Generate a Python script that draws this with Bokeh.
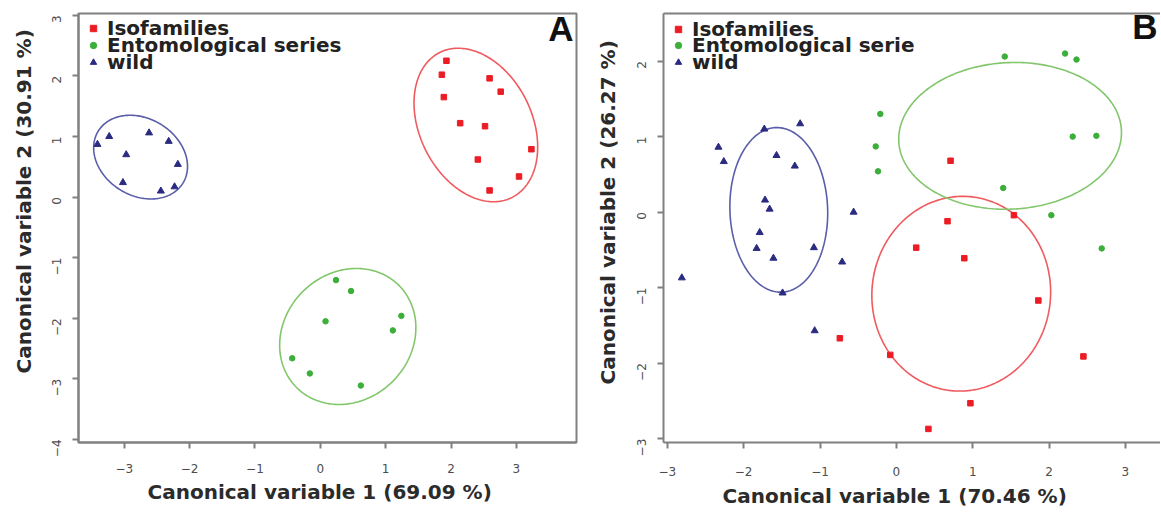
import numpy as np
from bokeh.plotting import figure
from bokeh.models import Range1d, FixedTicker, Legend, LegendItem, Label, LinearAxis, Title
from bokeh.layouts import row
from bokeh.embed import file_html
from bokeh.resources import INLINE

# ---------------- Panel A data ----------------
a_iso_x = [1.93, 1.86, 2.59, 2.76, 1.89, 2.14, 2.52, 3.23, 2.41, 3.04, 2.59]
a_iso_y = [2.25, 2.02, 1.96, 1.74, 1.65, 1.22, 1.17, 0.79, 0.62, 0.34, 0.11]
a_ent_x = [0.24, 0.47, 0.08, 1.24, 1.11, -0.43, -0.16, 0.62]
a_ent_y = [-1.37, -1.55, -2.05, -1.96, -2.20, -2.66, -2.91, -3.11]
a_wild_x = [-3.41, -3.23, -2.62, -2.32, -2.97, -2.18, -3.02, -2.44, -2.23]
a_wild_y = [0.87, 1.00, 1.06, 0.92, 0.70, 0.54, 0.24, 0.10, 0.17]
# ellipses: center x, center y, semi-major, semi-minor, angle (deg)
a_iso_ell = [2.38, 1.19, 1.32, 0.87, -68]
a_ent_ell = [0.42, -2.30, 1.16, 1.00, 60]
a_wild_ell = [-2.75, 0.66, 0.78, 0.62, -40]

# ---------------- Panel B data ----------------
b_iso_x = [0.71, 1.54, 0.67, 0.26, 0.89, 1.86, -0.08, 2.45, 0.97, 0.42, -0.74]
b_iso_y = [0.68, -0.04, -0.12, -0.47, -0.61, -1.17, -1.89, -1.91, -2.53, -2.87, -1.67]
b_ent_x = [1.42, 2.21, 2.36, -0.21, -0.27, -0.24, 2.31, 2.62, 1.40, 2.03, 2.69]
b_ent_y = [2.06, 2.10, 2.02, 1.30, 0.87, 0.54, 1.00, 1.01, 0.32, -0.04, -0.48]
b_wild_x = [-2.33, -2.26, -1.73, -1.26, -1.57, -1.33, -1.72, -1.66, -0.56,
            -1.79, -1.83, -1.08, -1.61, -0.71, -2.81, -1.49, -1.07]
b_wild_y = [0.86, 0.67, 1.10, 1.17, 0.75, 0.61, 0.16, 0.04, 0.00,
            -0.27, -0.48, -0.47, -0.61, -0.66, -0.87, -1.07, -1.57]
b_iso_ell = [0.85, -1.08, 1.29, 1.17, 85]
b_ent_ell = [1.49, 1.01, 1.46, 0.97, 3]
b_wild_ell = [-1.54, 0.03, 1.09, 0.64, 92]

a_xticks = [-3, -2, -1, 0, 1, 2, 3]
a_yticks = [-4, -3, -2, -1, 0, 1, 2, 3]
b_xticks = [-3, -2, -1, 0, 1, 2, 3]
b_yticks = [-3, -2, -1, 0, 1, 2]

labels_a = ["Isofamilies", "Entomological series", "wild"]
labels_b = ["Isofamilies", "Entomological serie", "wild"]
xtitle_a = "Canonical variable 1 (69.09 %)"
ytitle_a = "Canonical variable 2 (30.91 %)"
xtitle_b = "Canonical variable 1 (70.46 %)"
ytitle_b = "Canonical variable 2 (26.27 %)"

RED, RED_E = "#ec1c24", "#ef5a5e"
GREEN, GREEN_E = "#3cae3a", "#82c66c"
BLUE, BLUE_E = "#2a2b80", "#5a5ea8"
AX = "#808080"
FONT = "DejaVu Sans"


def ellipse_pts(e):
    cx, cy, a, b, ang = e
    t = np.linspace(0, 2 * np.pi, 240)
    th = np.deg2rad(ang)
    x = cx + a * np.cos(th) * np.cos(t) - b * np.sin(th) * np.sin(t)
    y = cy + a * np.sin(th) * np.cos(t) + b * np.cos(th) * np.sin(t)
    return x, y


def make_panel(width, height, xr, yr, xt, yt, bl, bt, br, bb, xlab, ylab,
               iso, ent, wild, ells, labels, letter, open_right,
               leg_offsets, xtick_standoff, xlab_off, xlab_standoff,
               ylab_off, ylab_standoff):
    p = figure(width=width, height=height, x_range=Range1d(*xr), y_range=Range1d(*yr),
               output_backend="svg", toolbar_location=None,
               min_border_left=bl, min_border_top=bt, min_border_right=br,
               min_border_bottom=bb)
    p.grid.visible = False
    xax = p.below[0]
    yax = p.left[0]
    xax.ticker = FixedTicker(ticks=xt)
    yax.ticker = FixedTicker(ticks=yt)
    if open_right:
        p.outline_line_color = None
        top = LinearAxis(ticker=FixedTicker(ticks=[]), axis_line_color=AX,
                         axis_line_width=2, major_tick_line_color=None,
                         minor_tick_line_color=None, major_label_standoff=0,
                         major_tick_out=0, major_tick_in=0,
                         major_label_text_font_size="0px")
        p.add_layout(top, "above")
    else:
        p.outline_line_color = AX
        p.outline_line_width = 2
    for ax in (xax, yax):
        ax.axis_line_color = AX
        ax.axis_line_width = 2
        ax.major_tick_line_color = AX
        ax.major_tick_line_width = 2
        ax.major_tick_out = 6
        ax.major_tick_in = 0
        ax.minor_tick_line_color = None
        ax.major_label_text_font = FONT
        ax.major_label_text_font_size = "12px"
        ax.major_label_text_color = "#4d4d4d"
    yax.major_label_orientation = np.pi / 2
    xax.major_label_standoff = xtick_standoff
    yax.major_label_standoff = 16

    for e, c in zip(ells, (RED_E, GREEN_E, BLUE_E)):
        ex, ey = ellipse_pts(e)
        p.line(ex, ey, line_color=c, line_width=1.6)

    r1 = p.scatter(iso[0], iso[1], marker="square", size=5.5, color=RED)
    r2 = p.scatter(ent[0], ent[1], marker="circle", size=5.5, color=GREEN)
    r3 = p.scatter(wild[0], wild[1], marker="triangle", size=7, color=BLUE)

    fw = width - bl - br
    fh = height - bt - bb
    for lab, r, d in zip(labels, (r1, r2, r3), leg_offsets):
        leg = Legend(items=[LegendItem(label=lab, renderers=[r])],
                     location=(4, fh - d - 12), margin=0, padding=0, spacing=0,
                     glyph_width=22, glyph_height=16, label_height=16, label_standoff=3,
                     label_text_font=FONT, label_text_font_size="20px",
                     label_text_font_style="bold", label_text_color="#222222",
                     background_fill_alpha=0, border_line_alpha=0)
        p.add_layout(leg)

    p.add_layout(Label(x=fw - 3, y=fh, x_units="screen", y_units="screen", text=letter,
                       text_align="right", text_baseline="top",
                       text_font="Liberation Sans", text_font_size="35px",
                       text_font_style="bold", text_color="#111111"))
    p.add_layout(Title(text=xlab, align="left", offset=xlab_off, standoff=xlab_standoff,
                       text_font=FONT, text_font_size="20px", text_font_style="bold",
                       text_color="#2b2b2b"), "below")
    p.add_layout(Title(text=ylab, align="left", offset=ylab_off, standoff=ylab_standoff,
                       text_font=FONT, text_font_size="20px", text_font_style="bold",
                       text_color="#2b2b2b"), "left")
    return p


pA = make_panel(579, 510, (-3.70, 3.92), (-4.05, 3.03), a_xticks, a_yticks,
                78, 13, 3, 63, xtitle_a, ytitle_a,
                (a_iso_x, a_iso_y), (a_ent_x, a_ent_y), (a_wild_x, a_wild_y),
                (a_iso_ell, a_ent_ell, a_wild_ell), labels_a, "A", False,
                (20, 37, 54), 15, 69, 5, 69, 18)
pB = make_panel(581, 510, (-3.05, 3.46), (-3.05, 2.63), b_xticks, b_yticks,
                84, 7, 0, 67, xtitle_b, ytitle_b,
                (b_iso_x, b_iso_y), (b_ent_x, b_ent_y), (b_wild_x, b_wild_y),
                (b_iso_ell, b_ent_ell, b_wild_ell), labels_b, "B", True,
                (23, 39, 56), 18, 59, 6, 58, 20)

layout = row(pA, pB)
open("out.html", "w").write(file_html(layout, INLINE))
